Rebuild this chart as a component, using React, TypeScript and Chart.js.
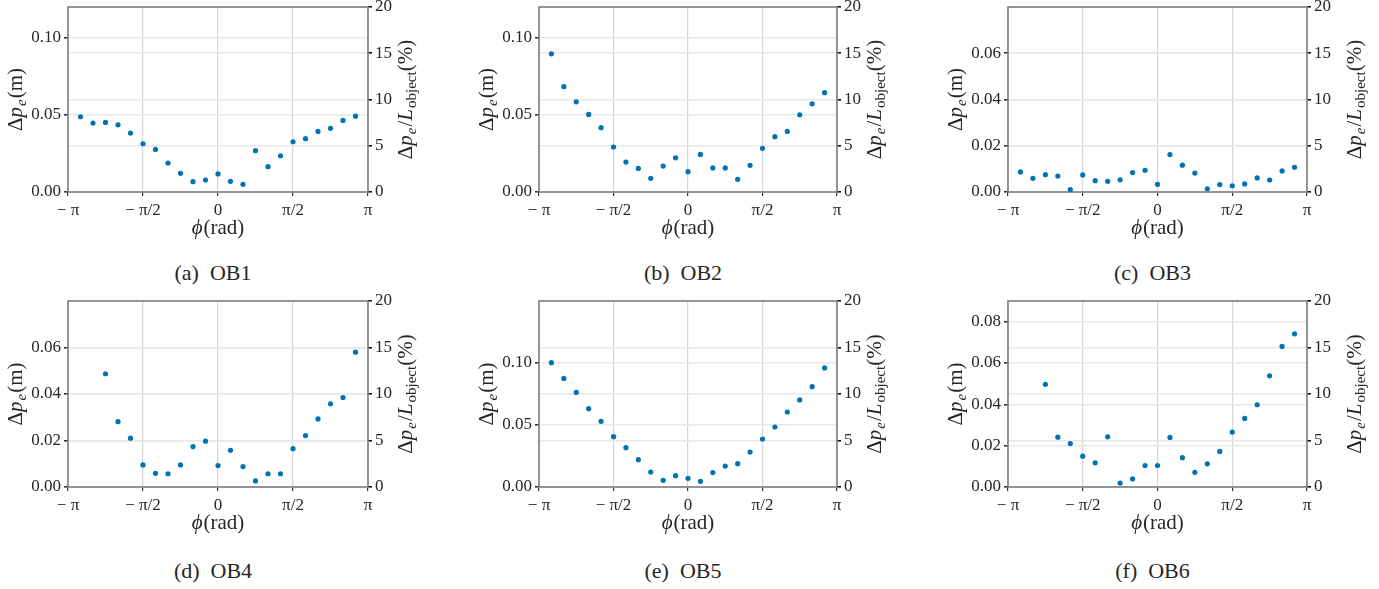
import React, { useEffect, useRef } from 'react';
import { Chart, registerables } from 'chart.js';

Chart.register(...registerables);

// ---- data ----
// angular sample positions, in multiples of pi/12
const PHI_STEPS_FULL = [-11, -10, -9, -8, -7, -6, -5, -4, -3, -2, -1, 0, 1, 2, 3, 4, 5, 6, 7, 8, 9, 10, 11];
const PHI_STEPS_PART = [-9, -8, -7, -6, -5, -4, -3, -2, -1, 0, 1, 2, 3, 4, 5, 6, 7, 8, 9, 10, 11];

const PHI_TICK_VALUES = [-Math.PI, -Math.PI / 2, 0, Math.PI / 2, Math.PI];
const PHI_TICK_LABELS = ['− π', '− π/2', '0', 'π/2', 'π'];
const PERCENT_TICKS = [0, 5, 10, 15, 20];

const OB1_ERR = [0.0488, 0.0447, 0.0451, 0.0436, 0.0382, 0.0313, 0.0276, 0.0188, 0.0121, 0.0067, 0.0078, 0.0117, 0.0069, 0.0050, 0.0268, 0.0164, 0.0235, 0.0326, 0.0346, 0.0393, 0.0413, 0.0464, 0.0492];
const OB2_ERR = [0.0896, 0.0683, 0.0585, 0.0503, 0.0417, 0.0292, 0.0194, 0.0153, 0.0089, 0.0168, 0.0222, 0.0132, 0.0244, 0.0156, 0.0156, 0.0082, 0.0173, 0.0283, 0.0359, 0.0393, 0.0501, 0.0572, 0.0644];
const OB3_ERR = [0.0087, 0.0059, 0.0075, 0.0069, 0.0010, 0.0074, 0.0049, 0.0046, 0.0053, 0.0084, 0.0094, 0.0033, 0.0162, 0.0116, 0.0082, 0.0014, 0.0032, 0.0027, 0.0035, 0.0061, 0.0052, 0.0091, 0.0107];
const OB4_ERR = [0.0487, 0.0281, 0.0210, 0.0095, 0.0059, 0.0057, 0.0095, 0.0174, 0.0197, 0.0092, 0.0158, 0.0088, 0.0026, 0.0057, 0.0057, 0.0165, 0.0221, 0.0293, 0.0358, 0.0385, 0.0580];
const OB5_ERR = [0.1003, 0.0876, 0.0763, 0.0632, 0.0530, 0.0406, 0.0317, 0.0220, 0.0121, 0.0054, 0.0091, 0.0070, 0.0046, 0.0116, 0.0169, 0.0188, 0.0282, 0.0387, 0.0484, 0.0605, 0.0702, 0.0809, 0.0960];
const OB6_ERR = [0.0497, 0.0241, 0.0210, 0.0149, 0.0117, 0.0243, 0.0019, 0.0039, 0.0104, 0.0104, 0.0240, 0.0142, 0.0071, 0.0112, 0.0172, 0.0266, 0.0332, 0.0398, 0.0538, 0.0680, 0.0741];

const OB1_TICKS = [0, 0.05, 0.1];
const OB2_TICKS = [0, 0.05, 0.1];
const OB3_TICKS = [0, 0.02, 0.04, 0.06];
const OB4_TICKS = [0, 0.02, 0.04, 0.06];
const OB5_TICKS = [0, 0.05, 0.1];
const OB6_TICKS = [0, 0.02, 0.04, 0.06, 0.08];

const OB_YMAX = [0.12, 0.12, 0.08, 0.08, 0.15, 0.09];
const CAPTIONS = ['(a) OB1', '(b) OB2', '(c) OB3', '(d) OB4', '(e) OB5', '(f) OB6'];

// ---- layout ----
const COLS = [
  { L: 68, R: 368, rightTitle: 38 },
  { L: 539, R: 837, rightTitle: 38 },
  { L: 1008, R: 1307, rightTitle: 48 },
];
const ROWS = [
  { T: 7, B: 192, cap: 273 },
  { T: 301, B: 487, cap: 571 },
];
const PADL = 75;
const PADR = 75;
const PADT = 24;
const PADB = 50;

const FONT = '"Liberation Serif", "DejaVu Serif", serif';
const TEXT = '#262626';
const DOT = '#0173b2';

type Seg = { t: string; it?: boolean; sub?: boolean };

const LEFT_TITLE: Seg[] = [{ t: 'Δ' }, { t: 'p', it: true }, { t: 'e', it: true, sub: true }, { t: '(m)' }];
const RIGHT_TITLE: Seg[] = [
  { t: 'Δ' }, { t: 'p', it: true }, { t: 'e', it: true, sub: true }, { t: '/' },
  { t: 'L', it: true }, { t: 'object', sub: true }, { t: '(%)' },
];
const X_TITLE: Seg[] = [{ t: 'ϕ', it: true }, { t: '(rad)' }];

function drawRich(ctx: CanvasRenderingContext2D, segs: Seg[], size: number, x: number, y: number, rotate: boolean) {
  ctx.save();
  ctx.translate(x, y);
  if (rotate) ctx.rotate(-Math.PI / 2);
  const fontFor = (s: Seg) => `${s.it ? 'italic ' : ''}${s.sub ? Math.round(size * 0.7) : size}px ${FONT}`;
  const widths: number[] = [];
  let total = 0;
  for (const s of segs) {
    ctx.font = fontFor(s);
    const w = ctx.measureText(s.t).width + (s.it ? 1 : 0);
    widths.push(w);
    total += w;
  }
  let cx = -total / 2;
  ctx.textBaseline = 'middle';
  ctx.textAlign = 'left';
  ctx.fillStyle = TEXT;
  segs.forEach((s, i) => {
    ctx.font = fontFor(s);
    ctx.fillText(s.t, cx, s.sub ? size * 0.3 : 0);
    cx += widths[i];
  });
  ctx.restore();
}

type PanelCfg = {
  steps: number[];
  values: number[];
  ticks: number[];
  ymax: number;
  caption: string;
  col: number;
  row: number;
};

const PANELS: PanelCfg[] = [
  { steps: PHI_STEPS_FULL, values: OB1_ERR, ticks: OB1_TICKS, ymax: OB_YMAX[0], caption: CAPTIONS[0], col: 0, row: 0 },
  { steps: PHI_STEPS_FULL, values: OB2_ERR, ticks: OB2_TICKS, ymax: OB_YMAX[1], caption: CAPTIONS[1], col: 1, row: 0 },
  { steps: PHI_STEPS_FULL, values: OB3_ERR, ticks: OB3_TICKS, ymax: OB_YMAX[2], caption: CAPTIONS[2], col: 2, row: 0 },
  { steps: PHI_STEPS_PART, values: OB4_ERR, ticks: OB4_TICKS, ymax: OB_YMAX[3], caption: CAPTIONS[3], col: 0, row: 1 },
  { steps: PHI_STEPS_FULL, values: OB5_ERR, ticks: OB5_TICKS, ymax: OB_YMAX[4], caption: CAPTIONS[4], col: 1, row: 1 },
  { steps: PHI_STEPS_PART, values: OB6_ERR, ticks: OB6_TICKS, ymax: OB_YMAX[5], caption: CAPTIONS[5], col: 2, row: 1 },
];

function Panel({ cfg }: { cfg: PanelCfg }) {
  const ref = useRef<HTMLCanvasElement | null>(null);
  const c = COLS[cfg.col];
  const r = ROWS[cfg.row];
  const width = c.R - c.L + PADL + PADR;
  const height = r.B - r.T + PADT + PADB;

  useEffect(() => {
    if (!ref.current) return;
    const tickFont = { family: FONT, size: 17 };
    const framePlugin = {
      id: 'frame',
      beforeDatasetsDraw(chart: any) {
        const { ctx, chartArea: a } = chart;
        ctx.save();
        ctx.strokeStyle = '#808080';
        ctx.lineWidth = 1.6;
        ctx.strokeRect(a.left, a.top, a.right - a.left, a.bottom - a.top);
        ctx.restore();
      },
      afterDraw(chart: any) {
        const { ctx, chartArea: a } = chart;
        const midY = (a.top + a.bottom) / 2;
        drawRich(ctx, LEFT_TITLE, 21, a.left - 52, midY, true);
        drawRich(ctx, RIGHT_TITLE, 21, a.right + c.rightTitle, midY, true);
        drawRich(ctx, X_TITLE, 21, (a.left + a.right) / 2, a.bottom + 36, false);
      },
    };
    const chart = new Chart(ref.current, {
      type: 'scatter',
      data: {
        datasets: [
          {
            data: cfg.steps.map((k, i) => ({ x: (k * Math.PI) / 12, y: cfg.values[i] })),
            backgroundColor: DOT,
            borderColor: DOT,
            borderWidth: 0,
            pointRadius: 2.6,
            yAxisID: 'y',
          },
        ],
      },
      options: {
        animation: false,
        responsive: false,
        layout: { padding: { top: PADT, left: 0, right: 0, bottom: 0 } },
        plugins: { legend: { display: false }, tooltip: { enabled: false } },
        scales: {
          x: {
            type: 'linear',
            min: -Math.PI,
            max: Math.PI,
            afterBuildTicks: (s: any) => {
              s.ticks = PHI_TICK_VALUES.map((v) => ({ value: v }));
            },
            afterFit: (s: any) => {
              s.height = PADB;
            },
            ticks: {
              callback: (_v: any, i: number) => PHI_TICK_LABELS[i],
              font: tickFont,
              color: TEXT,
              padding: 4,
              maxRotation: 0,
              autoSkip: false,
            },
            grid: { color: '#d6d6d6', lineWidth: 1.2, tickColor: '#333', tickLength: 4 },
            border: { display: false },
          },
          y: {
            type: 'linear',
            position: 'left',
            min: 0,
            max: cfg.ymax,
            afterBuildTicks: (s: any) => {
              s.ticks = cfg.ticks.map((v) => ({ value: v }));
            },
            afterFit: (s: any) => {
              s.width = PADL;
            },
            ticks: {
              callback: (v: any) => Number(v).toFixed(2),
              font: tickFont,
              color: TEXT,
              padding: 3,
              autoSkip: false,
            },
            grid: { color: '#e8e8e8', lineWidth: 1.6, tickColor: '#333', tickLength: 4 },
            border: { display: false },
          },
          y2: {
            type: 'linear',
            position: 'right',
            min: 0,
            max: 20,
            afterBuildTicks: (s: any) => {
              s.ticks = PERCENT_TICKS.map((v) => ({ value: v }));
            },
            afterFit: (s: any) => {
              s.width = PADR;
            },
            ticks: {
              callback: (v: any) => String(v),
              font: tickFont,
              color: TEXT,
              padding: 3,
              autoSkip: false,
            },
            grid: { color: '#e8e8e8', lineWidth: 1.6, tickColor: '#111', tickLength: 4 },
            border: { display: false },
          },
        },
      } as any,
      plugins: [framePlugin],
    });
    return () => chart.destroy();
  }, [cfg]);

  return (
    <>
      <canvas
        ref={ref}
        width={width}
        height={height}
        style={{
          position: 'absolute',
          left: c.L - PADL,
          top: r.T - PADT,
          width,
          height,
          display: 'block',
        }}
      />
      <div
        style={{
          position: 'absolute',
          left: (c.L + c.R) / 2 - 5,
          top: r.cap - 13,
          transform: 'translateX(-50%)',
          fontFamily: FONT,
          fontSize: 22,
          lineHeight: '26px',
          color: TEXT,
          whiteSpace: 'pre',
        }}
      >
        {cfg.caption.replace(' ', '  ')}
      </div>
    </>
  );
}

export default function App() {
  return (
    <div style={{ position: 'absolute', left: 0, top: 0, width: 1379, height: 589, background: '#fff', overflow: 'hidden' }}>
      {PANELS.map((p, i) => (
        <Panel key={i} cfg={p} />
      ))}
    </div>
  );
}
